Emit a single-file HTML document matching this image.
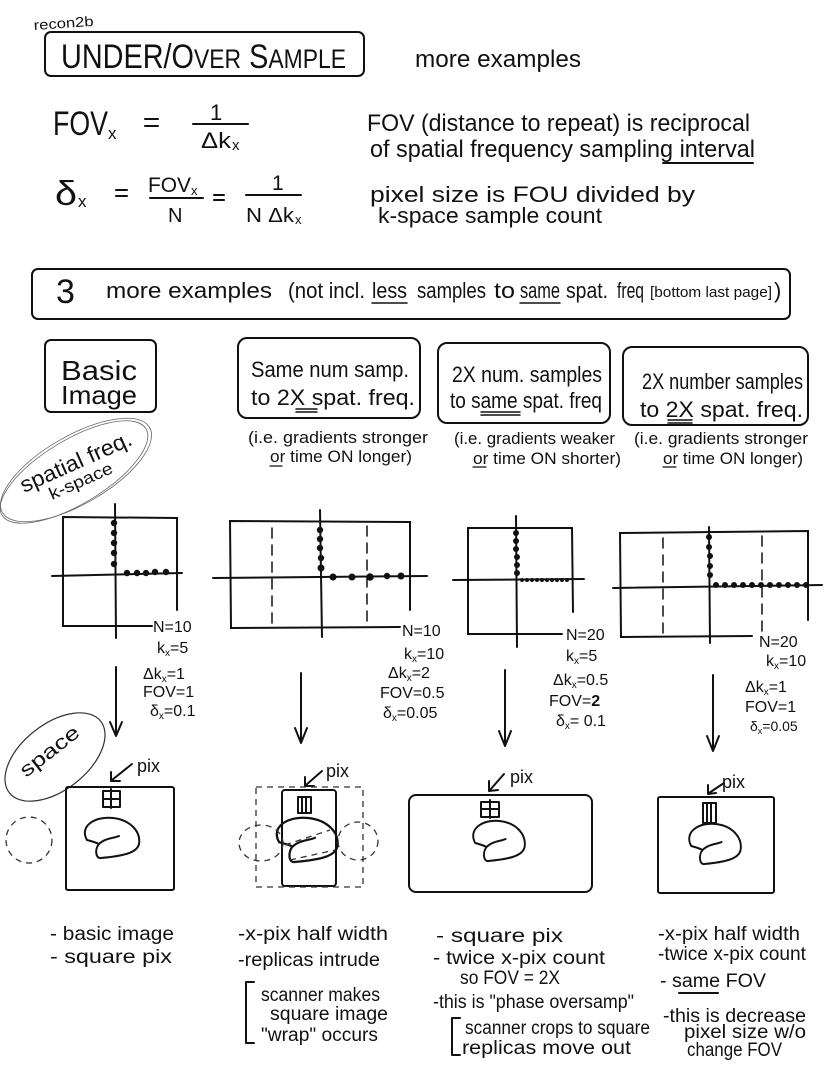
<!DOCTYPE html>
<html><head><meta charset="utf-8"><style>
html,body{margin:0;padding:0;background:#fff;}
svg{display:block;}
text{font-family:"Liberation Sans",sans-serif;fill:#111;}
</style></head><body>
<svg width="824" height="1077" viewBox="0 0 824 1077" xmlns="http://www.w3.org/2000/svg">
<defs>
<path id="blob" d="M -24,2 C -32,-12 -16,-22 2,-20 C 20,-18 30,-6 28,6 C 26,15 12,18 -10,20 C -16,21 -16,10 -12,6 C -6,0 4,0 8,-2 M -12,6 C -16,4 -20,3 -24,2" fill="none" stroke="#111" stroke-width="2"/>
</defs>
<g fill="none" stroke="#111" stroke-width="2" stroke-linecap="round" stroke-linejoin="round">
<rect x="45" y="32" width="319" height="44" rx="6"/>
<line x1="145" y1="119" x2="158" y2="119"/><line x1="145" y1="126" x2="158" y2="126"/>
<line x1="193" y1="124" x2="248" y2="124"/>
<line x1="663" y1="163" x2="753" y2="163"/>
<line x1="116" y1="190" x2="127" y2="190"/><line x1="116" y1="196" x2="127" y2="196"/>
<line x1="150" y1="198" x2="203" y2="198"/>
<line x1="214" y1="195" x2="224" y2="195"/><line x1="214" y1="200" x2="224" y2="200"/>
<line x1="246" y1="195" x2="301" y2="195"/>
<rect x="32" y="269" width="758" height="50" rx="6"/>
<line x1="372" y1="303" x2="407" y2="303" stroke-width="1.5"/>
<line x1="520" y1="303" x2="560" y2="303" stroke-width="1.5"/>
<rect x="45" y="340" width="111" height="72" rx="6"/>
<rect x="238" y="338" width="182" height="80" rx="9"/>
<line x1="296" y1="409" x2="317" y2="409" stroke-width="1.5"/><line x1="296" y1="412" x2="317" y2="412" stroke-width="1.5"/>
<rect x="438" y="343" width="172" height="80" rx="9"/>
<line x1="481" y1="412" x2="520" y2="412" stroke-width="1.5"/><line x1="481" y1="415" x2="520" y2="415" stroke-width="1.5"/>
<rect x="623" y="347" width="185" height="78" rx="9"/>
<line x1="668" y1="420" x2="692" y2="420" stroke-width="1.5"/><line x1="668" y1="423" x2="692" y2="423" stroke-width="1.5"/>
<line x1="270" y1="466" x2="282" y2="466" stroke-width="1.2"/>
<line x1="473" y1="467" x2="486" y2="467" stroke-width="1.2"/>
<line x1="663" y1="467" x2="676" y2="467" stroke-width="1.2"/>
</g>
<g fill="none" stroke="#666" stroke-width="0.8">
<ellipse cx="76" cy="470" rx="85" ry="34" transform="rotate(-30 76 470)"/>
<ellipse cx="74" cy="472" rx="84" ry="32" transform="rotate(-31 74 472)"/>
</g>
<g fill="none" stroke="#111" stroke-width="2" stroke-linecap="round">
<path d="M 177,610 L 177,518 L 63,517 L 63,626 L 152,626"/>
<line x1="115" y1="504" x2="116" y2="638"/>
<line x1="52" y1="576" x2="182" y2="573"/>
<path d="M 410,610 L 410,522 L 230,521 L 231,628 L 400,627"/>
<path d="M 272,528 L 272,625 M 367,526 L 367,624" stroke-dasharray="10 7" stroke-width="1.5"/>
<line x1="320" y1="510" x2="322" y2="637"/>
<line x1="213" y1="578" x2="427" y2="576"/>
<path d="M 573,612 L 572,528 L 468,528 L 468,634 L 562,634"/>
<line x1="516" y1="516" x2="517" y2="647"/>
<line x1="453" y1="580" x2="584" y2="579"/>
<path d="M 808,620 L 808,531 L 620,533 L 621,637 L 752,636"/>
<path d="M 663,538 L 663,633 M 762,536 L 762,632" stroke-dasharray="10 7" stroke-width="1.5"/>
<line x1="709" y1="527" x2="710" y2="643"/>
<line x1="613" y1="588" x2="822" y2="585"/>
</g>
<g fill="#111">
<circle cx="114" cy="523" r="3.2"/><circle cx="114" cy="533" r="3.2"/><circle cx="114" cy="543" r="3.2"/><circle cx="114" cy="553" r="3.2"/><circle cx="114" cy="564" r="3.2"/>
<circle cx="127" cy="573" r="3.2"/><circle cx="137" cy="573" r="3.2"/><circle cx="146" cy="573" r="3.2"/><circle cx="155" cy="572" r="3.2"/><circle cx="166" cy="572" r="3.2"/>
<circle cx="320" cy="530" r="3.2"/><circle cx="320" cy="539" r="3.2"/><circle cx="320" cy="548" r="3.2"/><circle cx="321" cy="558" r="3.2"/><circle cx="321" cy="568" r="3.5"/>
<circle cx="333" cy="577" r="3.5"/><circle cx="352" cy="577" r="3.5"/><circle cx="370" cy="577" r="3.8"/><circle cx="387" cy="576" r="3.2"/><circle cx="401" cy="576" r="3.5"/>
<circle cx="516" cy="533" r="3"/><circle cx="516" cy="541" r="3"/><circle cx="516" cy="549" r="3"/><circle cx="517" cy="557" r="3"/><circle cx="517" cy="565" r="3"/><circle cx="517" cy="573" r="3"/>
<circle cx="522" cy="580" r="2"/><circle cx="527" cy="580" r="2"/><circle cx="532" cy="580" r="2"/><circle cx="537" cy="580" r="2"/><circle cx="542" cy="580" r="2"/><circle cx="547" cy="580" r="2"/><circle cx="552" cy="580" r="2"/><circle cx="557" cy="580" r="2"/><circle cx="562" cy="580" r="2"/><circle cx="567" cy="580" r="2"/>
<circle cx="709" cy="537" r="3"/><circle cx="709" cy="547" r="3"/><circle cx="710" cy="556" r="3"/><circle cx="710" cy="566" r="3"/><circle cx="710" cy="575" r="3"/>
<circle cx="716" cy="585" r="3"/><circle cx="725" cy="585" r="3"/><circle cx="734" cy="585" r="3"/><circle cx="743" cy="585" r="3"/><circle cx="752" cy="585" r="3"/><circle cx="761" cy="585" r="3"/><circle cx="770" cy="585" r="3"/><circle cx="779" cy="585" r="3"/><circle cx="788" cy="585" r="3"/><circle cx="797" cy="585" r="3"/><circle cx="806" cy="585" r="3"/>
</g>
<g fill="none" stroke="#111" stroke-width="2" stroke-linecap="round" stroke-linejoin="round">
<line x1="116" y1="667" x2="116" y2="735"/><polyline points="110,722 116,736 122,722"/>
<line x1="301" y1="673" x2="301" y2="742"/><polyline points="295,728 301,743 307,728"/>
<line x1="505" y1="670" x2="505" y2="745"/><polyline points="499,731 505,746 511,731"/>
<line x1="713" y1="675" x2="713" y2="750"/><polyline points="707,736 713,751 719,736"/>
</g>
<ellipse cx="55" cy="757" rx="58" ry="33" transform="rotate(-38 55 757)" fill="none" stroke="#333" stroke-width="1.2"/>
<g fill="none" stroke="#111" stroke-width="2" stroke-linecap="round" stroke-linejoin="round">
<rect x="66" y="787" width="108" height="103" rx="2"/>
<rect x="103" y="791" width="17" height="16"/><line x1="111" y1="789" x2="111" y2="808"/><line x1="103" y1="799" x2="120" y2="799"/>
<use href="#blob" transform="translate(111,838)"/>
<path d="M 132,764 L 112,780 M 111,772 L 111,781 L 120,781"/>
<rect x="282" y="790" width="54" height="96" rx="3"/>
<rect x="298" y="797" width="13" height="16"/><line x1="302" y1="797" x2="302" y2="813"/><line x1="306" y1="797" x2="306" y2="813"/>
<use href="#blob" transform="translate(306,840) scale(1.12,1.1)"/>
<path d="M 322,771 L 306,785 M 305,777 L 305,786 L 314,786"/>
<rect x="409" y="795" width="183" height="97" rx="7"/>
<rect x="481" y="802" width="18" height="15"/><line x1="490" y1="800" x2="490" y2="818"/><line x1="481" y1="809" x2="499" y2="809"/>
<use href="#blob" transform="translate(498,841) scale(0.95,1)"/>
<path d="M 504,774 L 490,790 M 489,781 L 489,791 L 498,790"/>
<rect x="658" y="797" width="116" height="96" rx="2"/>
<rect x="703" y="803" width="13" height="20"/><line x1="707" y1="803" x2="707" y2="823"/><line x1="711" y1="803" x2="711" y2="823"/>
<use href="#blob" transform="translate(714,844) scale(0.95,1)"/>
<path d="M 724,783 L 709,793 M 708,785 L 708,794 L 716,793"/>
<path d="M 254,982 L 246,982 L 246,1043 L 254,1043"/>
<path d="M 460,1018 L 452,1018 L 452,1055 L 460,1055"/>
<line x1="679" y1="993" x2="718" y2="993"/>
</g>
<g fill="none" stroke="#333" stroke-width="1.3" stroke-dasharray="6 5">
<rect x="256" y="787" width="107" height="100"/>
<ellipse cx="261" cy="843" rx="22" ry="18"/>
<ellipse cx="358" cy="841" rx="20" ry="19"/>
<circle cx="29" cy="840" r="23"/>
<path d="M 285,845 L 330,830 M 290,860 L 335,850"/>
</g>

<text x="34" y="30" font-size="14" textLength="60" lengthAdjust="spacingAndGlyphs" transform="rotate(-4 34 30)">recon2b</text>
<text x="61" y="68" font-size="34" textLength="285" lengthAdjust="spacingAndGlyphs">UNDER/O<tspan font-size="27">VER</tspan> S<tspan font-size="27">AMPLE</tspan></text>
<text x="415" y="67" font-size="24" textLength="166" lengthAdjust="spacingAndGlyphs">more examples</text>

<text x="53" y="135" font-size="34" textLength="55" lengthAdjust="spacingAndGlyphs">FOV</text>
<text x="108" y="139" font-size="17">x</text>
<text x="210" y="120" font-size="22">1</text>
<text x="201" y="148" font-size="22" textLength="30" lengthAdjust="spacingAndGlyphs">Δk</text>
<text x="232" y="150" font-size="15">x</text>
<text x="367" y="131" font-size="24" textLength="383" lengthAdjust="spacingAndGlyphs">FOV (distance to repeat) is reciprocal</text>
<text x="370" y="157" font-size="24" textLength="385" lengthAdjust="spacingAndGlyphs">of spatial frequency sampling interval</text>

<text x="55" y="205" font-size="34" textLength="22" lengthAdjust="spacingAndGlyphs">δ</text>
<text x="78" y="207" font-size="17">x</text>
<text x="148" y="192" font-size="21" textLength="43" lengthAdjust="spacingAndGlyphs">FOV</text>
<text x="191" y="195" font-size="13">x</text>
<text x="168" y="222" font-size="20">N</text>
<text x="272" y="190" font-size="21">1</text>
<text x="246" y="222" font-size="20" textLength="48" lengthAdjust="spacingAndGlyphs">N Δk</text>
<text x="295" y="224" font-size="13">x</text>
<text x="370" y="202" font-size="22" textLength="325" lengthAdjust="spacingAndGlyphs">pixel size is FOU divided by</text>
<text x="378" y="223" font-size="22" textLength="224" lengthAdjust="spacingAndGlyphs">k-space sample count</text>

<text x="56" y="303" font-size="34">3</text>
<g font-size="22">
<text x="106" y="298" textLength="166" lengthAdjust="spacingAndGlyphs">more examples</text>
<text x="288" y="298" textLength="77" lengthAdjust="spacingAndGlyphs">(not incl.</text>
<text x="372" y="298" textLength="35" lengthAdjust="spacingAndGlyphs">less</text>
<text x="417" y="298" textLength="69" lengthAdjust="spacingAndGlyphs">samples</text>
<text x="494" y="298" textLength="21" lengthAdjust="spacingAndGlyphs">to</text>
<text x="520" y="298" textLength="40" lengthAdjust="spacingAndGlyphs">same</text>
<text x="566" y="298" textLength="42" lengthAdjust="spacingAndGlyphs">spat.</text>
<text x="617" y="298" textLength="27" lengthAdjust="spacingAndGlyphs">freq</text>
<text x="650" y="297" font-size="15" textLength="122" lengthAdjust="spacingAndGlyphs">[bottom last page]</text>
<text x="774" y="298">)</text>
</g>

<text x="61" y="380" font-size="28" textLength="76" lengthAdjust="spacingAndGlyphs">Basic</text>
<text x="61" y="404" font-size="26" textLength="76" lengthAdjust="spacingAndGlyphs">Image</text>
<text x="251" y="377" font-size="22" textLength="158" lengthAdjust="spacingAndGlyphs">Same num samp.</text>
<text x="251" y="405" font-size="22" textLength="164" lengthAdjust="spacingAndGlyphs">to 2X spat. freq.</text>
<text x="452" y="382" font-size="22" textLength="150" lengthAdjust="spacingAndGlyphs">2X num. samples</text>
<text x="450" y="408" font-size="22" textLength="152" lengthAdjust="spacingAndGlyphs">to same spat. freq</text>
<text x="642" y="389" font-size="22" textLength="161" lengthAdjust="spacingAndGlyphs">2X number samples</text>
<text x="640" y="417" font-size="22" textLength="163" lengthAdjust="spacingAndGlyphs">to 2X spat. freq.</text>

<text x="248" y="443" font-size="17" textLength="180" lengthAdjust="spacingAndGlyphs">(i.e. gradients stronger</text>
<text x="270" y="462" font-size="17" textLength="142" lengthAdjust="spacingAndGlyphs">or time ON longer)</text>
<text x="454" y="444" font-size="17" textLength="161" lengthAdjust="spacingAndGlyphs">(i.e. gradients weaker</text>
<text x="473" y="464" font-size="17" textLength="148" lengthAdjust="spacingAndGlyphs">or time ON shorter)</text>
<text x="634" y="444" font-size="17" textLength="174" lengthAdjust="spacingAndGlyphs">(i.e. gradients stronger</text>
<text x="663" y="464" font-size="17" textLength="140" lengthAdjust="spacingAndGlyphs">or time ON longer)</text>

<text x="24" y="493" font-size="22" textLength="120" lengthAdjust="spacingAndGlyphs" transform="rotate(-24 24 493)">spatial freq.</text>
<text x="52" y="500" font-size="17" textLength="68" lengthAdjust="spacingAndGlyphs" transform="rotate(-24 52 500)">k-space</text>

<g font-size="16">
<text x="153" y="632">N=10</text>
<text x="157" y="653">k<tspan font-size="10" dy="3">x</tspan><tspan dy="-3">=5</tspan></text>
<text x="143" y="679">Δk<tspan font-size="10" dy="3">x</tspan><tspan dy="-3">=1</tspan></text>
<text x="143" y="697">FOV=1</text>
<text x="150" y="716">δ<tspan font-size="10" dy="3">x</tspan><tspan dy="-3">=0.1</tspan></text>

<text x="402" y="636">N=10</text>
<text x="404" y="659">k<tspan font-size="10" dy="3">x</tspan><tspan dy="-3">=10</tspan></text>
<text x="388" y="678">Δk<tspan font-size="10" dy="3">x</tspan><tspan dy="-3">=2</tspan></text>
<text x="380" y="698">FOV=0.5</text>
<text x="383" y="718">δ<tspan font-size="10" dy="3">x</tspan><tspan dy="-3">=0.05</tspan></text>

<text x="566" y="640">N=20</text>
<text x="566" y="661">k<tspan font-size="10" dy="3">x</tspan><tspan dy="-3">=5</tspan></text>
<text x="553" y="685">Δk<tspan font-size="10" dy="3">x</tspan><tspan dy="-3">=0.5</tspan></text>
<text x="549" y="706">FOV=<tspan font-weight="bold">2</tspan></text>
<text x="556" y="726">δ<tspan font-size="10" dy="3">x</tspan><tspan dy="-3">= 0.1</tspan></text>

<text x="759" y="647">N=20</text>
<text x="766" y="666">k<tspan font-size="10" dy="3">x</tspan><tspan dy="-3">=10</tspan></text>
<text x="745" y="692">Δk<tspan font-size="10" dy="3">x</tspan><tspan dy="-3">=1</tspan></text>
<text x="745" y="712">FOV=1</text>
<text x="750" y="731" font-size="14">δ<tspan font-size="9" dy="3">x</tspan><tspan dy="-3">=0.05</tspan></text>
</g>

<text x="26" y="778" font-size="20" textLength="70" lengthAdjust="spacingAndGlyphs" transform="rotate(-38 26 778)">space</text>
<g font-size="18">
<text x="137" y="772">pix</text>
<text x="326" y="777">pix</text>
<text x="510" y="783">pix</text>
<text x="722" y="788">pix</text>
</g>

<g font-size="19">
<text x="50" y="940" textLength="124" lengthAdjust="spacingAndGlyphs">- basic image</text>
<text x="50" y="963" textLength="122" lengthAdjust="spacingAndGlyphs">- square pix</text>

<text x="238" y="940" textLength="150" lengthAdjust="spacingAndGlyphs">-x-pix half width</text>
<text x="238" y="966" textLength="142" lengthAdjust="spacingAndGlyphs">-replicas intrude</text>
<text x="261" y="1001" textLength="119" lengthAdjust="spacingAndGlyphs">scanner makes</text>
<text x="270" y="1020" textLength="118" lengthAdjust="spacingAndGlyphs">square image</text>
<text x="261" y="1041" textLength="117" lengthAdjust="spacingAndGlyphs">"wrap" occurs</text>

<text x="436" y="942" textLength="127" lengthAdjust="spacingAndGlyphs">- square pix</text>
<text x="433" y="964" textLength="172" lengthAdjust="spacingAndGlyphs">- twice x-pix count</text>
<text x="460" y="984" textLength="100" lengthAdjust="spacingAndGlyphs">so FOV = 2X</text>
<text x="433" y="1008" textLength="201" lengthAdjust="spacingAndGlyphs">-this is "phase oversamp"</text>
<text x="465" y="1034" textLength="185" lengthAdjust="spacingAndGlyphs">scanner crops to square</text>
<text x="462" y="1054" textLength="169" lengthAdjust="spacingAndGlyphs">replicas move out</text>

<text x="658" y="940" textLength="142" lengthAdjust="spacingAndGlyphs">-x-pix half width</text>
<text x="658" y="960" textLength="148" lengthAdjust="spacingAndGlyphs">-twice x-pix count</text>
<text x="660" y="987" textLength="106" lengthAdjust="spacingAndGlyphs">- same FOV</text>
<text x="663" y="1022" textLength="143" lengthAdjust="spacingAndGlyphs">-this is decrease</text>
<text x="684" y="1038" textLength="122" lengthAdjust="spacingAndGlyphs">pixel size w/o</text>
<text x="687" y="1056" textLength="95" lengthAdjust="spacingAndGlyphs">change FOV</text>
</g>
</svg>
</body></html>
